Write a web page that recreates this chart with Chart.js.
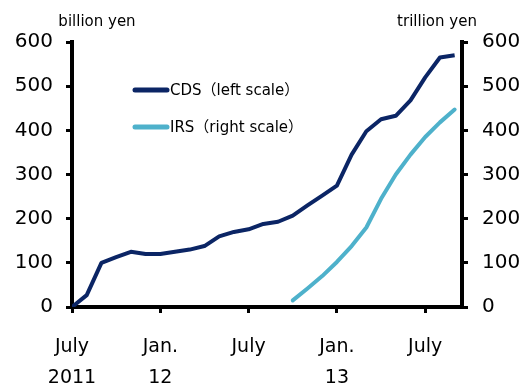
<!DOCTYPE html>
<html>
<head>
<meta charset="utf-8">
<script src="https://cdn.jsdelivr.net/npm/chart.js@4/dist/chart.umd.min.js"></script>
<style>
  html, body { margin: 0; padding: 0; background: #ffffff; }
  #wrap { width: 523px; height: 387px; }
</style>
</head>
<body>
<div id="wrap"><canvas id="c" width="523" height="387"></canvas></div>
<script>
// Monthly observations, July 2011 to September 2013
const months = [
  '2011-07','2011-08','2011-09','2011-10','2011-11','2011-12',
  '2012-01','2012-02','2012-03','2012-04','2012-05','2012-06',
  '2012-07','2012-08','2012-09','2012-10','2012-11','2012-12',
  '2013-01','2013-02','2013-03','2013-04','2013-05','2013-06',
  '2013-07','2013-08','2013-09'
];

// CDS outstanding, billion yen (left scale)
const cdsValues = [
  0, 27, 100, 113, 125, 120,
  120, 125, 130, 138, 160, 170,
  176, 188, 193, 207, 230, 252,
  275, 345, 398, 425, 433, 468,
  520, 565, 570
];

// IRS outstanding, trillion yen (right scale); series begins October 2012
const irsValues = [
  null, null, null, null, null, null,
  null, null, null, null, null, null,
  null, null, null, 15, 42, 70,
  102, 138, 180, 245, 300, 345,
  385, 418, 447
];

const seriesLabels = ['CDS\uFF08left scale\uFF09', 'IRS\uFF08right scale\uFF09'];
const seriesColors = ['#0b2565', '#4eb1cb'];

// x positions (month index) of the labelled ticks and their two-line labels
const xTickPositions = [0, 6, 12, 18, 24];
const xTickLabels = [['July', '2011'], ['Jan.', '12'], ['July', ''], ['Jan.', '13'], ['July', '']];
const yTicks = [0, 100, 200, 300, 400, 500, 600];
const unitLeft = 'billion yen';
const unitRight = 'trillion yen';

const toPoints = vals => vals
  .map((v, i) => (v === null ? null : { x: i, y: v }))
  .filter(p => p !== null);

const FONT = "'DejaVu Sans', 'Noto Sans CJK JP', sans-serif";

// Legend and unit captions drawn directly on the canvas
const annotations = {
  id: 'annotations',
  afterDraw(chart) {
    const ctx = chart.ctx;
    ctx.save();
    ctx.fillStyle = '#000';
    ctx.font = '15px ' + FONT;
    ctx.textBaseline = 'middle';
    ctx.textAlign = 'center';
    ctx.fillText(unitLeft, 97, 22);
    ctx.fillText(unitRight, 437, 22);

    const rows = [90, 127];
    chart.data.datasets.forEach((ds, i) => {
      const y = rows[i];
      ctx.strokeStyle = ds.borderColor;
      ctx.lineWidth = 5;
      ctx.lineCap = 'round';
      ctx.beginPath();
      ctx.moveTo(135, y);
      ctx.lineTo(167, y);
      ctx.stroke();
      ctx.fillStyle = '#000';
      ctx.textAlign = 'left';
      ctx.fillText(ds.label, 170, y + 1);
    });
    ctx.restore();
  }
};

const axisCommon = {
  min: 0,
  max: 600,
  border: { display: true, color: '#000', width: 4 },
  grid: { drawOnChartArea: false, drawTicks: true, tickLength: 6, color: '#000', lineWidth: 3 },
  afterBuildTicks: s => { s.ticks = yTicks.map(v => ({ value: v })); },
};

new Chart(document.getElementById('c'), {
  type: 'line',
  data: {
    datasets: [
      {
        label: seriesLabels[0],
        data: toPoints(cdsValues),
        borderColor: seriesColors[0],
        borderWidth: 4,
        pointRadius: 0,
        tension: 0,
        borderJoinStyle: 'round',
        yAxisID: 'y'
      },
      {
        label: seriesLabels[1],
        data: toPoints(irsValues),
        borderColor: seriesColors[1],
        borderWidth: 4,
        pointRadius: 0,
        tension: 0,
        borderCapStyle: 'round',
        borderJoinStyle: 'round',
        yAxisID: 'y1'
      }
    ]
  },
  options: {
    responsive: false,
    animation: false,
    layout: { padding: { top: 42, left: 0, right: 0, bottom: 0 } },
    plugins: { legend: { display: false }, tooltip: { enabled: false } },
    scales: {
      x: {
        type: 'linear',
        min: 0,
        max: 26.5,
        border: { display: true, color: '#000', width: 4 },
        grid: { drawOnChartArea: false, drawTicks: true, tickLength: 6, color: '#000', lineWidth: 3 },
        afterBuildTicks: s => { s.ticks = xTickPositions.map(v => ({ value: v })); },
        ticks: {
          color: '#000',
          font: { family: FONT, size: 19, lineHeight: 1.6 },
          padding: 19,
          maxRotation: 0,
          autoSkip: false,
          callback: (v) => xTickLabels[xTickPositions.indexOf(v)]
        },
        afterFit: s => { s.height = 80; }
      },
      y: Object.assign({}, axisCommon, {
        position: 'left',
        ticks: { color: '#000', font: { family: FONT, size: 20 }, padding: 13 },
        afterFit: s => { s.width = 72; }
      }),
      y1: Object.assign({}, axisCommon, {
        position: 'right',
        ticks: { color: '#000', font: { family: FONT, size: 20 }, padding: 14 },
        afterFit: s => { s.width = 61; }
      })
    }
  },
  plugins: [annotations]
});
</script>
</body>
</html>
